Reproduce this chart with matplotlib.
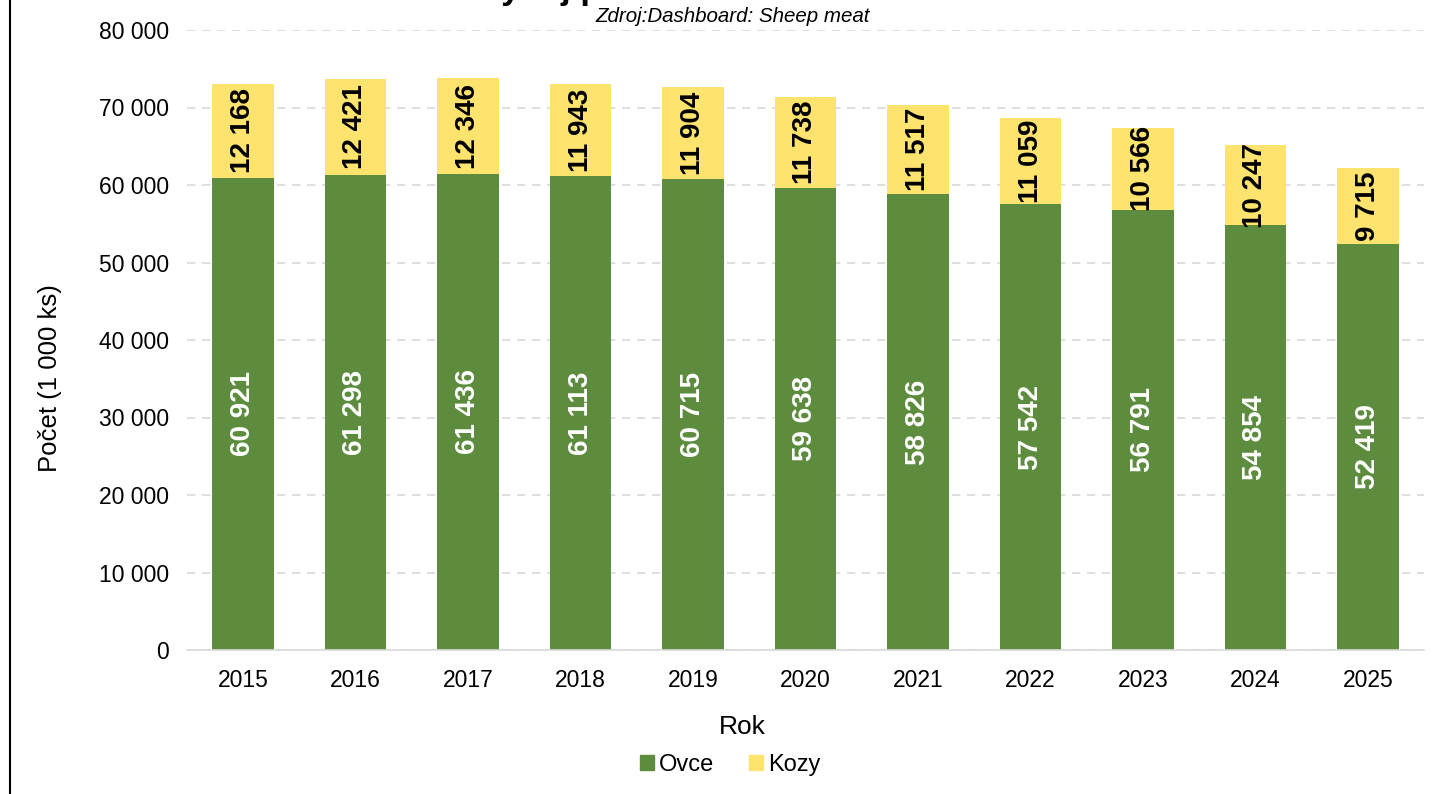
import matplotlib
matplotlib.use("Agg")
import matplotlib.pyplot as plt
from matplotlib.lines import Line2D
from matplotlib.patches import Patch
import numpy as np

years = ["2015", "2016", "2017", "2018", "2019", "2020", "2021", "2022", "2023", "2024", "2025"]
ovce = [60921, 61298, 61436, 61113, 60715, 59638, 58826, 57542, 56791, 54854, 52419]
kozy = [12168, 12421, 12346, 11943, 11904, 11738, 11517, 11059, 10566, 10247, 9715]
yticks = [0, 10000, 20000, 30000, 40000, 50000, 60000, 70000, 80000]

GREEN = "#5e8c3e"
YELLOW = "#ffe36f"

plt.rcParams['font.family'] = ['Liberation Sans', 'DejaVu Sans']

def fmt(v):
    return f"{v:,}".replace(",", " ")

fig = plt.figure(figsize=(14.35, 7.94), dpi=100)
ax = fig.add_axes([186.75/1435, 1-650/794, 1237.5/1435, 620/794])

x = np.arange(len(years))
w = 0.55
ax.bar(x, ovce, w, color=GREEN, zorder=3)
ax.bar(x, kozy, w, bottom=ovce, color=YELLOW, zorder=3)

for i in range(len(years)):
    ax.text(x[i], ovce[i] / 2, fmt(ovce[i]), rotation=90, ha='center', va='center',
            color='white', fontsize=20, fontweight='bold', zorder=4)
    ax.text(x[i], ovce[i] + kozy[i] / 2, fmt(kozy[i]), rotation=90, ha='center', va='center',
            color='black', fontsize=20, fontweight='bold', zorder=4)

ax.set_xlim(-0.5, len(years) - 0.5)
ax.set_ylim(0, 80000)
ax.set_yticks(yticks)
ax.set_yticklabels([fmt(v) for v in yticks], fontsize=16.5)
ax.set_xticks(x)
ax.set_xticklabels(years, fontsize=16.5)
ax.tick_params(axis='y', length=0, pad=13)
ax.tick_params(axis='x', length=0, pad=14)
ax.grid(axis='y', color='#d9d9d9', linestyle=(0, (5, 4)), linewidth=1.2, zorder=0)
for s in ['top', 'right', 'left']:
    ax.spines[s].set_visible(False)
ax.spines['bottom'].set_color('#d9d9d9')
ax.spines['bottom'].set_linewidth(1.2)
ax.spines['bottom'].set_zorder(5)

ax.set_ylabel("Počet (1 000 ks)", fontsize=18.5, va='center')
ax.yaxis.set_label_coords((50 - 186.75) / 1237.5, (650 - 378) / 620)
ax.set_xlabel("Rok", fontsize=19, va='center')
ax.xaxis.set_label_coords((742 - 186.75) / 1237.5, (650 - 727) / 620)

fig.text(733/1435, 1 - 16/794, "Zdroj:Dashboard: Sheep meat", ha='center', va='center',
         fontsize=14.8, style='italic')
fig.text(478/1435, 1 + 1/794, "Vývoj počtu oviec a kôz", ha='left',
         va='baseline', fontsize=25, fontweight='bold')

fig.add_artist(Line2D([9.5/1435, 9.5/1435], [0, 1], transform=fig.transFigure,
                      color='black', linewidth=1.5))

handles = [Patch(color=GREEN, label='Ovce'), Patch(color=YELLOW, label='Kozy')]
fig.legend(handles=handles, loc='center', bbox_to_anchor=(730/1435, 1 - 765/794), ncol=2,
           frameon=False, fontsize=17, handlelength=0.6, handleheight=0.6,
           handletextpad=0.2, columnspacing=1.5)

fig.savefig("out.png", dpi=100)
